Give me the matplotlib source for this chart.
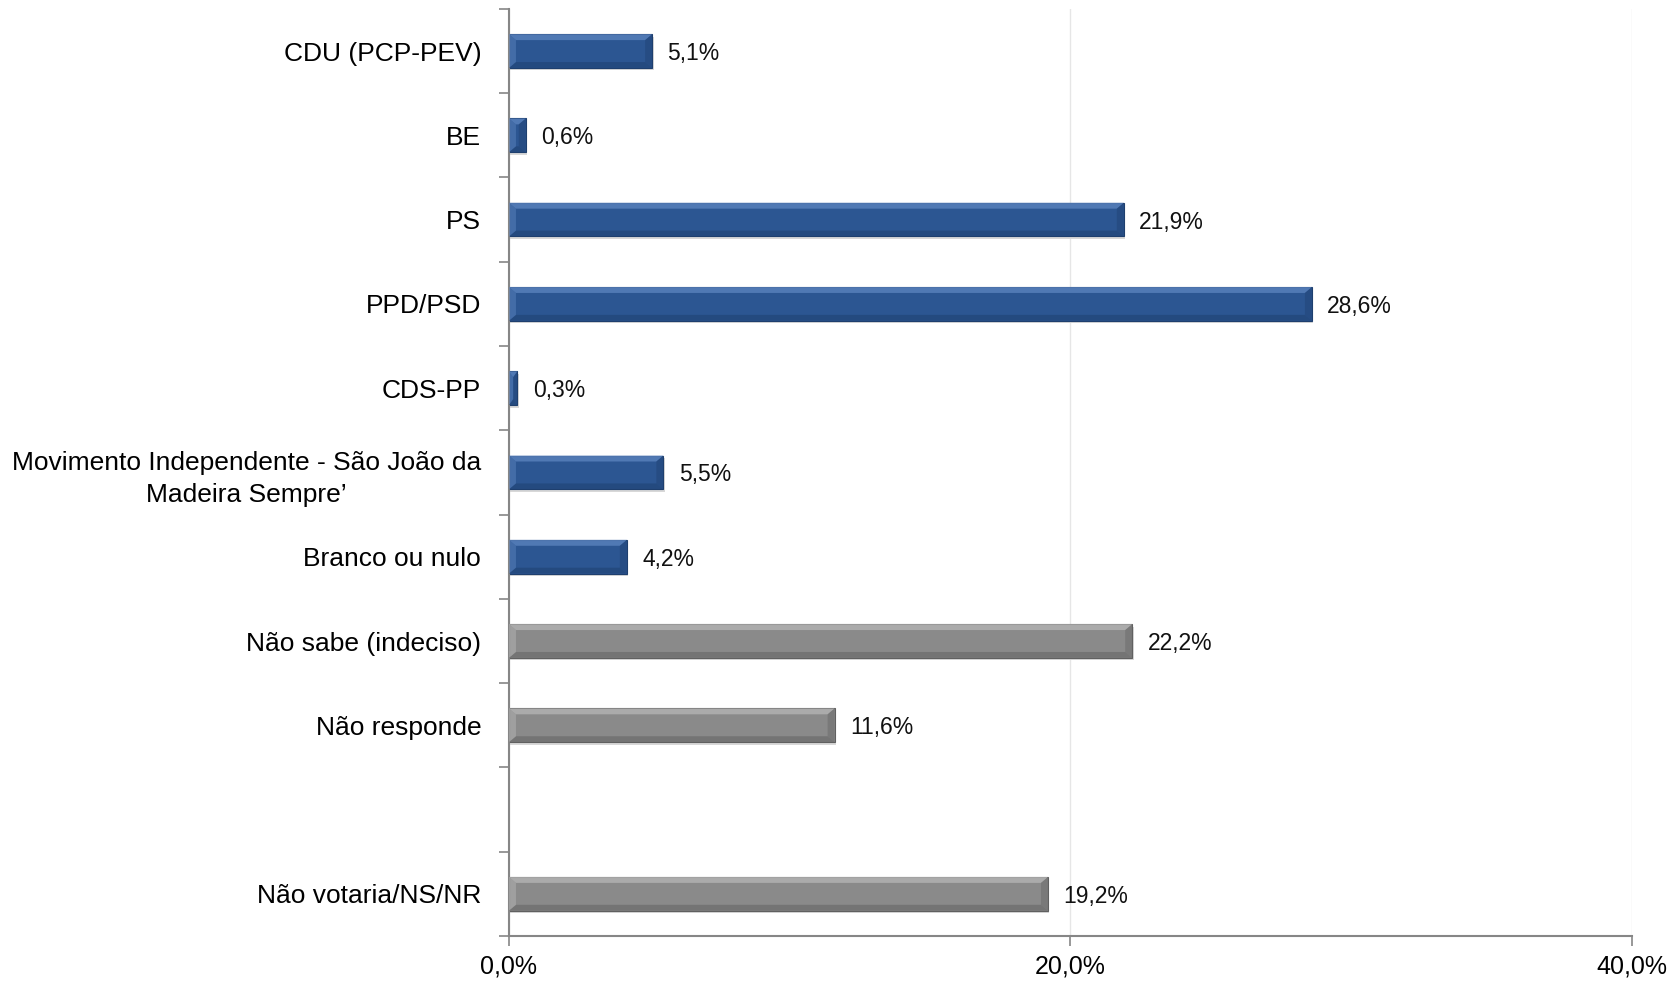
import matplotlib
matplotlib.use("Agg")
import matplotlib.pyplot as plt
from matplotlib import font_manager

# data
categories = ["CDU (PCP-PEV)", "BE", "PS", "PPD/PSD", "CDS-PP",
              "Movimento Independente - São João da\nMadeira Sempre’",
              "Branco ou nulo", "Não sabe (indeciso)", "Não responde",
              "Não votaria/NS/NR"]
values = [5.1, 0.6, 21.9, 28.6, 0.3, 5.5, 4.2, 22.2, 11.6, 19.2]
positions = [0, 1, 2, 3, 4, 5, 6, 7, 8, 10]   # slot 9 left empty
groups = ["party"] * 7 + ["other"] * 3
x_ticks = [0, 20, 40]

names = {f.name for f in font_manager.fontManager.ttflist}
fam = [f for f in ["Liberation Sans Narrow", "Liberation Sans", "DejaVu Sans"] if f in names]
plt.rcParams["font.family"] = fam

colors = {"party": ("#2C5692", "#5A82BD", "#1E3F6E"),
          "other": ("#8A8A8A", "#B4B4B4", "#606060")}

fig = plt.figure(figsize=(16.67, 9.81), dpi=100)
ax = fig.add_axes([0.3053, 0.0459, 0.979 - 0.3053, 0.9450])

h = 0.40
bev_y = 0.07
bev_x = 0.25
for cat_y, v, g in zip(positions, values, groups):
    base, light, dark = colors[g]
    # soft shadow
    ax.barh(cat_y + 0.03, v, height=h, left=0.05, color="#d8d8d8", zorder=1)
    ax.barh(cat_y, v, height=h, color=base, edgecolor=dark, linewidth=0.8, zorder=2)
    top = cat_y - h / 2
    bot = cat_y + h / 2
    bx = min(bev_x, v / 2)
    # top highlight bevel
    ax.fill([0, v, v - bx, bx], [top, top, top + bev_y, top + bev_y],
            color=light, alpha=0.8, zorder=3, lw=0)
    # bottom dark bevel
    ax.fill([0, v, v - bx, bx], [bot, bot, bot - bev_y, bot - bev_y],
            color=dark, alpha=0.5, zorder=3, lw=0)
    # right end bevel
    ax.fill([v, v, v - bx, v - bx], [top, bot, bot - bev_y, top + bev_y],
            color=dark, alpha=0.4, zorder=3, lw=0)
    # left end bevel
    ax.fill([0, 0, bx, bx], [top, bot, bot - bev_y, top + bev_y],
            color=light, alpha=0.5, zorder=3, lw=0)
    ax.text(v + 0.55, cat_y + 0.03, f"{v:.1f}%".replace(".", ","), va="center",
            ha="left", fontsize=16.5, color="#111111", zorder=4)

ax.set_xlim(0, 40)
ax.set_ylim(10.5, -0.5)
ax.set_xticks(x_ticks)
ax.set_xticklabels([f"{t:.1f}%".replace(".", ",") for t in x_ticks], fontsize=18)
ax.set_yticks(positions)
ax.set_yticklabels(categories, fontsize=19, ha="right", multialignment="center",
                   linespacing=1.45)
ax.set_yticks([p - 0.5 for p in range(12)], minor=True)
ax.tick_params(axis="y", which="major", length=0, pad=20)
ax.tick_params(axis="y", which="minor", length=7, color="#868686", width=1.2)
ax.tick_params(axis="x", length=7, color="#868686", width=1.2, pad=6)

ax.grid(axis="x", color="#e6e6e6", linewidth=1, zorder=0)
ax.set_axisbelow(True)
for s in ["top", "right"]:
    ax.spines[s].set_visible(False)
for s in ["left", "bottom"]:
    ax.spines[s].set_color("#868686")
    ax.spines[s].set_linewidth(1.5)

fig.savefig("out.png", dpi=100, facecolor="white")
